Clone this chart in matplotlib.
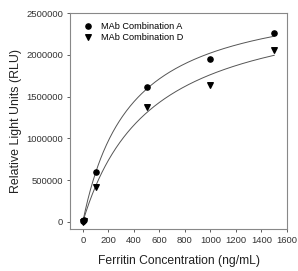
import numpy as np
import matplotlib
matplotlib.use("Agg")
import matplotlib.pyplot as plt
from matplotlib.ticker import FuncFormatter

plt.rcParams['font.family'] = ['Liberation Sans', 'DejaVu Sans']

conc_a = [0, 10, 100, 500, 1000, 1500]
rlu_a = [5000, 20000, 595000, 1620000, 1950000, 2265000]
conc_d = [0, 10, 100, 500, 1000, 1500]
rlu_d = [0, 15000, 418000, 1370000, 1643000, 2060000]
label_a = "MAb Combination A"
label_d = "MAb Combination D"


def fit_hyper(x, y):
    # hyperbola y = a*x/(b+x), least squares by grid over b
    x = np.asarray(x, float)
    y = np.asarray(y, float)
    best = None
    for b in np.linspace(10, 3000, 3000):
        g = x / (b + x)
        a = (g @ y) / (g @ g)
        err = np.sum((y - a * g) ** 2)
        if best is None or err < best[0]:
            best = (err, a, b)
    return best[1], best[2]


fig, ax = plt.subplots(figsize=(2.98, 2.71), dpi=100)
fig.subplots_adjust(left=0.235, right=0.963, bottom=0.155, top=0.952)

xs = np.linspace(0, 1500, 300)
for cx, cy in [(conc_a, rlu_a), (conc_d, rlu_d)]:
    a, b = fit_hyper(cx, cy)
    ax.plot(xs, a * xs / (b + xs), color='#555555', lw=0.7)

ax.scatter(conc_a, rlu_a, marker='o', s=14, color='black', label=label_a, zorder=3)
ax.scatter(conc_d, rlu_d, marker='v', s=16, color='black', label=label_d, zorder=3)

ax.set_xlim(-100, 1600)
ax.set_ylim(-85000, 2500000)
ax.set_xticks(range(0, 1601, 200))
ax.set_yticks(range(0, 2500001, 500000))
ax.yaxis.set_major_formatter(FuncFormatter(lambda v, p: f"{int(v)}"))
ax.tick_params(labelsize=6.8, length=2.5, width=0.6, pad=2.5, colors='#444444', labelcolor='#333333')
for s in ax.spines.values():
    s.set_color('#888888')
    s.set_linewidth(0.8)

ax.set_xlabel("Ferritin Concentration (ng/mL)", fontsize=8.7, color='#222222', labelpad=7)
ax.set_ylabel("Relative Light Units (RLU)", fontsize=8.9, color='#222222', labelpad=3)

ax.legend(loc='upper left', bbox_to_anchor=(0.03, 0.99), frameon=False, fontsize=6.6,
          handletextpad=0.8, borderaxespad=0.3, labelspacing=0.25, handlelength=1.2)

fig.savefig("out.png", dpi=100)
